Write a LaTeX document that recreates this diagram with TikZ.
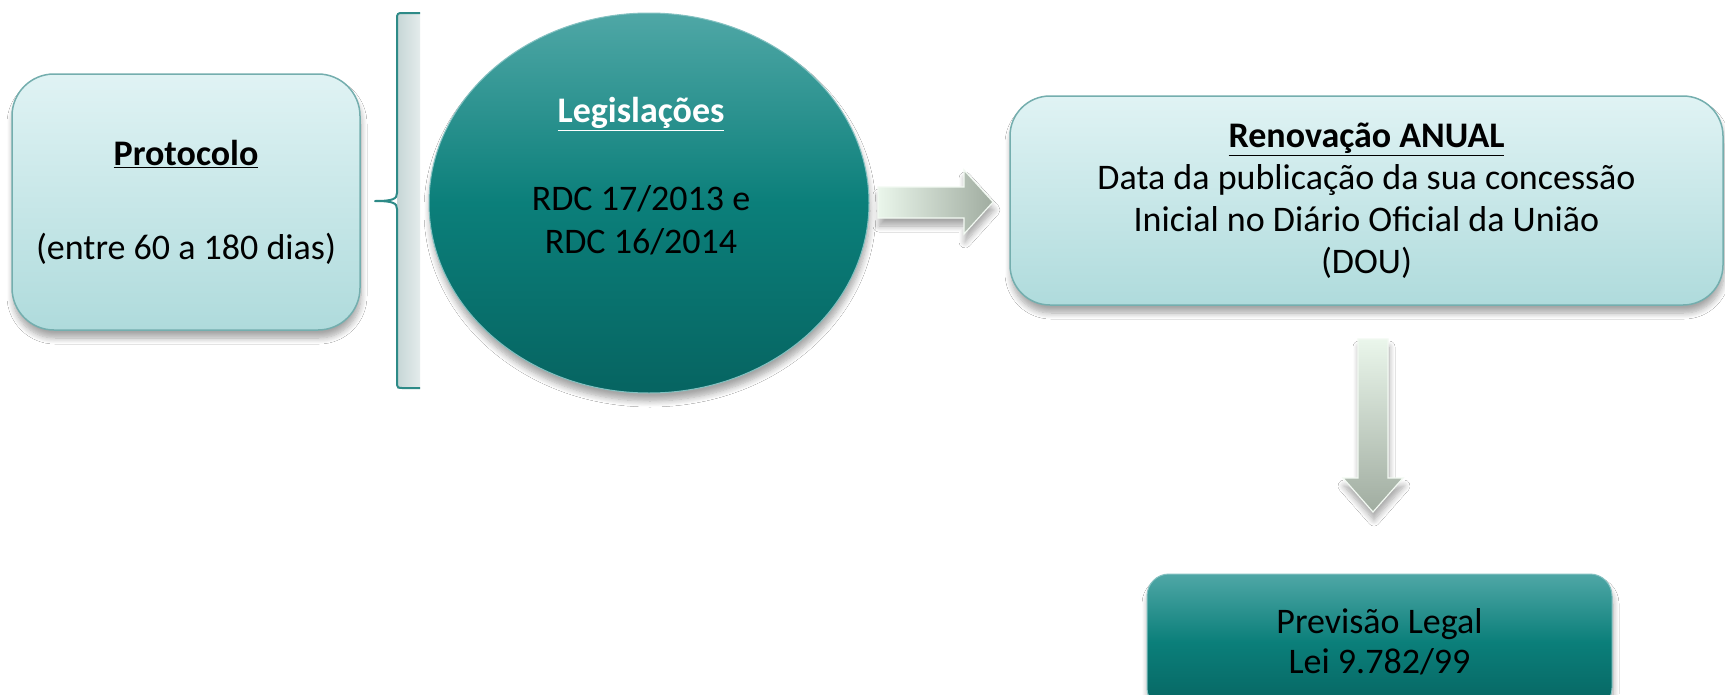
\documentclass[tikz,border=0pt]{standalone}
\usepackage{fontspec}
\setmainfont{Carlito}
\usetikzlibrary{shapes.geometric,shadows,shadows.blur}
\definecolor{lighttop}{HTML}{E0F3F4}
\definecolor{lightbot}{HTML}{AFDBDC}
\definecolor{lightborder}{HTML}{74AEAE}
\definecolor{tealtop}{HTML}{4FA7A6}
\definecolor{tealmid}{HTML}{0B7F7A}
\definecolor{tealbot}{HTML}{066461}
\definecolor{arrowlight}{HTML}{EAF6EB}
\definecolor{arrowdark}{HTML}{A0ACA0}
\definecolor{arrowborder}{HTML}{F2F9F2}
\definecolor{bracecol}{HTML}{2D8A87}
\definecolor{stripleft}{HTML}{C6D6D6}
\definecolor{stripright}{HTML}{E4ECEC}
\tikzset{
  shadowed/.style={blur shadow={shadow xshift=1pt, shadow yshift=-8pt, shadow opacity=35, shadow blur radius=6pt, shadow blur steps=8}},
  lightbox/.style={rectangle, rounded corners=42pt, draw=lightborder, line width=1.5pt,
     top color=lighttop, bottom color=lightbot, shadowed, align=center,
     font=\fontsize{36}{47}\selectfont},
  tealshape/.style={draw=tealtop!70, line width=1pt, top color=tealtop, bottom color=tealbot,
     middle color=tealmid, shadowed},
  txt/.style={align=center, font=\fontsize{36}{43}\selectfont, inner sep=0pt},
  blockarrow/.style={draw=arrowborder, line width=1.2pt, shadowed},
}
\begin{document}
\begin{tikzpicture}[x=1pt,y=-1pt]
\path[use as bounding box, clip] (0,0) rectangle (1725,694);
\fill[white] (0,0) rectangle (1725,694);

% Protocolo box
\node[lightbox, minimum width=348pt, minimum height=256pt] (prot) at (186,202)
  {\textbf{\underline{Protocolo}}\\ \\ (entre 60 a 180 dias)};

% brace strip and brace
\path[left color=stripleft, right color=stripright] (397,13) rectangle (420,388);
\coordinate (btop) at (420,13);
\coordinate (bbot) at (420,388);
\coordinate (btip) at (375,201);
\draw[bracecol, line width=2pt, line join=round]
  (btop) -- (402,13) .. controls (398,13) and (397,14) .. (397,18)
  -- (397,193) .. controls (397,199) and (393,201) .. (btip)
  .. controls (393,201) and (397,203) .. (397,209)
  -- (397,383) .. controls (397,387) and (398,388) .. (402,388) -- (bbot);

% Legislacoes ellipse
\node[ellipse, tealshape, minimum width=440pt, minimum height=380pt] (leg) at (649,203) {};
\node[txt] (legtxt) at (641,176)
  {\textcolor{white}{\textbf{\underline{Legislações}}}\\[45pt] RDC 17/2013 e\\ RDC 16/2014};

% Renovacao box
\node[lightbox, rounded corners=40pt, minimum width=713pt, minimum height=209pt,
      font=\fontsize{36}{42}\selectfont] (ren) at (1366.5,200.5)
  {\textbf{\underline{Renovação ANUAL}}\\ Data da publicação da sua concessão\\
   Inicial no Diário Oficial da União\\ (DOU)};

% right block arrow
\path[blockarrow, left color=arrowlight, right color=arrowdark]
  (878,187) -- (964,187) -- (964,170) -- (993,202) -- (964,234) -- (964,218) -- (878,218) -- cycle;

% down block arrow
\path[blockarrow, top color=arrowlight, bottom color=arrowdark]
  (1358,339) -- (1388,339) -- (1388,478) -- (1403,478) -- (1373,512)
  -- (1343,478) -- (1358,478) -- cycle;

% Previsao box
\node[rectangle, rounded corners=22pt, tealshape, minimum width=465pt, minimum height=136pt,
      txt, font=\fontsize{36}{40}\selectfont] (prev) at (1379.5,642)
  {Previsão Legal\\ Lei 9.782/99};
\end{tikzpicture}
\end{document}
